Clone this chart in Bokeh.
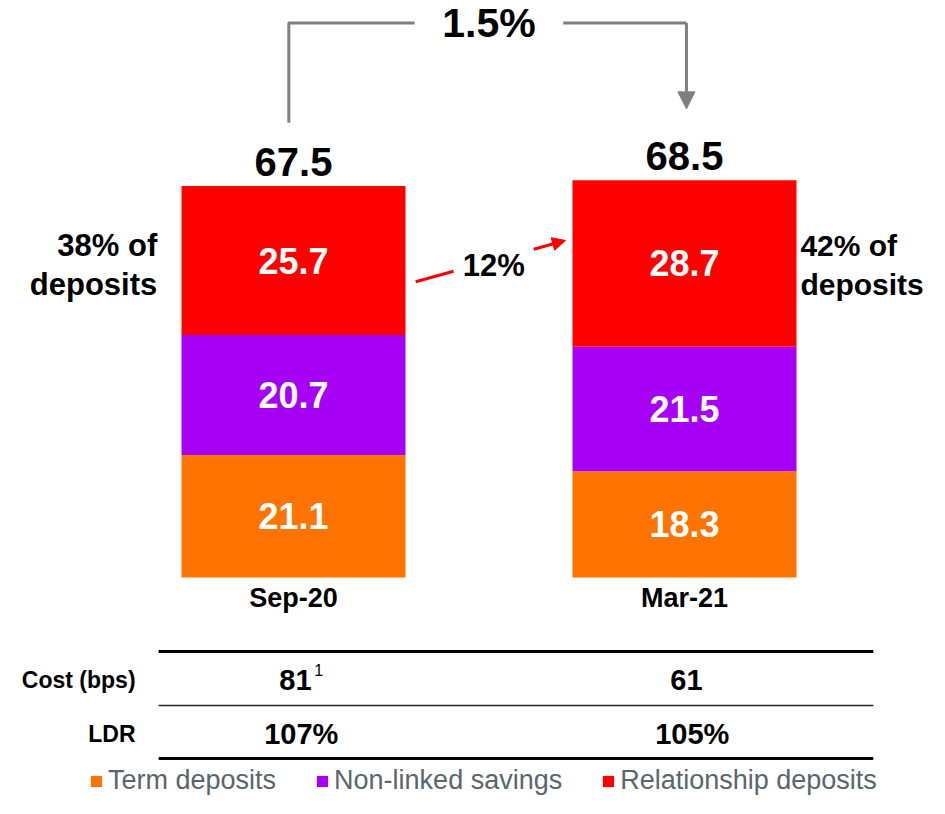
from bokeh.plotting import figure
from bokeh.models import ColumnDataSource, Range1d, Arrow, NormalHead, Legend, LegendItem
from bokeh.core.properties import value
from bokeh.embed import file_html
from bokeh.resources import INLINE

# ---------------- data ----------------
periods = ["Sep-20", "Mar-21"]
term_deposits = [21.1, 18.3]
non_linked_savings = [20.7, 21.5]
relationship_deposits = [25.7, 28.7]
series_names = ["Term deposits", "Non-linked savings", "Relationship deposits"]
series_colors = ["#FF7300", "#A600F5", "#FF0000"]
total_growth = "1.5%"
relationship_growth = "12%"
relationship_share = ["38% of", "42% of"]
share_suffix = "deposits"
cost_bps = ["81", "61"]
cost_footnote = ["1", ""]
ldr = ["107%", "105%"]
row_labels = ["Cost (bps)", "LDR"]

FONT = value("Liberation Sans")

# ---------------- figure ----------------
W, H = 929, 798
px_x = 391.0   # pixels per category step
px_y = 5.8     # pixels per unit
x_left_px, base_px = 293.0, 221.0
p = figure(width=W, height=H, output_backend="svg", toolbar_location=None,
           x_range=Range1d(-x_left_px / px_x, (W - x_left_px) / px_x),
           y_range=Range1d(-base_px / px_y, (H - base_px) / px_y),
           x_axis_location=None, y_axis_location=None, min_border=0)
p.grid.visible = False
p.outline_line_color = None
p.background_fill_color = "white"
p.border_fill_color = "white"

xs = list(range(len(periods)))
bar_w = 224 / px_x
half = bar_w / 2
src = ColumnDataSource(dict(x=xs, term=term_deposits, nls=non_linked_savings,
                            rel=relationship_deposits))
renderers = p.vbar_stack(["term", "nls", "rel"], x="x", width=bar_w, color=series_colors,
                         line_color=None, source=src)

# segment labels
lab_x, lab_y, lab_t = [], [], []
for i in xs:
    base = 0.0
    for v in (term_deposits[i], non_linked_savings[i], relationship_deposits[i]):
        lab_x.append(i); lab_y.append(base + v / 2); lab_t.append(f"{v:.1f}")
        base += v
p.text(x=lab_x, y=lab_y, text=lab_t, text_align="center", text_baseline="middle",
       text_color="white", text_font=FONT, text_font_style="bold", text_font_size="36px")

totals = [a + b + c for a, b, c in zip(term_deposits, non_linked_savings, relationship_deposits)]
p.text(x=xs, y=[t + 4.2 for t in totals], text=[f"{t:.1f}" for t in totals],
       text_align="center", text_baseline="middle", text_color="black",
       text_font=FONT, text_font_style="bold", text_font_size="40px")

# category labels
p.text(x=xs, y=[-3.6] * 2, text=periods, text_align="center", text_baseline="middle",
       text_color="black", text_font=FONT, text_font_style="bold", text_font_size="27px")

# bracket with total growth
gray = "#7F7F7F"
top_y = 95.6
gap = 0.19
p.multi_line(xs=[[xs[0] - 0.012, xs[0] - 0.012, 0.5 - gap], [0.5 + gap, xs[1] + 0.005]],
             ys=[[totals[0] + 10.9, top_y, top_y], [top_y, top_y]],
             line_color=gray, line_width=3)
p.add_layout(Arrow(end=NormalHead(size=17, fill_color=gray, line_color=gray),
                   x_start=xs[1] + 0.005, y_start=top_y, x_end=xs[1] + 0.005, y_end=totals[1] + 12.3,
                   line_color=gray, line_width=3))
p.text(x=[0.5], y=[top_y], text=[total_growth], text_align="center", text_baseline="middle",
       text_color="black", text_font=FONT, text_font_style="bold", text_font_size="41px")

# relationship growth arrow
red = "#FF0000"
rel_mid = [term_deposits[i] + non_linked_savings[i] + relationship_deposits[i] / 2 for i in xs]
x_tail, x_tip = xs[0] + half + 0.026, xs[1] - half - 0.018
y_tail, y_tip = rel_mid[0] - 3.65, rel_mid[1] + 3.95
def on_line(t):
    return x_tail + (x_tip - x_tail) * t, y_tail + (y_tip - y_tail) * t
a0 = on_line(0.0); a1 = on_line(0.253); b0 = on_line(0.788)
p.segment(x0=[a0[0]], y0=[a0[1]], x1=[a1[0]], y1=[a1[1]], line_color=red, line_width=3)
p.add_layout(Arrow(end=NormalHead(size=13, fill_color=red, line_color=red),
                   x_start=b0[0], y_start=b0[1], x_end=x_tip, y_end=y_tip,
                   line_color=red, line_width=3))
p.text(x=[0.512], y=[rel_mid[0] - 0.85], text=[relationship_growth], text_align="center",
       text_baseline="middle", text_color="black", text_font=FONT, text_font_style="bold",
       text_font_size="31px")

# share annotations
p.text(x=[xs[0] - half - 0.062] * 2, y=[rel_mid[0] + 2.55, rel_mid[0] - 4.15],
       text=[relationship_share[0], share_suffix], text_align="right", text_baseline="middle",
       text_color="black", text_font=FONT, text_font_style="bold", text_font_size="31px")
p.text(x=[xs[1] + half + 0.01] * 2, y=[rel_mid[0] + 2.55, rel_mid[0] - 4.15],
       text=[relationship_share[1], share_suffix], text_align="left", text_baseline="middle",
       text_color="black", text_font=FONT, text_font_style="bold", text_font_size="30px")

# table
tx0, tx1 = -0.345, 1.483
p.segment(x0=[tx0] * 2, x1=[tx1] * 2, y0=[-12.76, -31.2], y1=[-12.76, -31.2],
          line_color="black", line_width=3)
p.segment(x0=[tx0], x1=[tx1], y0=[-22.07], y1=[-22.07], line_color="#222222", line_width=1.5)
row_y = [-17.6, -26.9]
p.text(x=[-0.404] * 2, y=row_y, text=row_labels, text_align="right", text_baseline="middle",
       text_color="black", text_font=FONT, text_font_style="bold", text_font_size="23px")
col_x = [i + 0.005 for i in xs]
p.text(x=col_x, y=[row_y[0]] * 2, text=cost_bps, text_align="center", text_baseline="middle",
       text_color="black", text_font=FONT, text_font_style="bold", text_font_size="29px")
p.text(x=[col_x[0] + 0.048], y=[row_y[0] + 1.6], text=[cost_footnote[0]], text_align="left",
       text_baseline="middle", text_color="black", text_font=FONT, text_font_size="16px")
p.text(x=[c + 0.015 for c in col_x], y=[row_y[1]] * 2, text=ldr, text_align="center",
       text_baseline="middle", text_color="black", text_font=FONT, text_font_style="bold",
       text_font_size="29px")

# legend
items = [LegendItem(label=n, renderers=[r]) for n, r in zip(series_names, renderers)]
legend = Legend(items=items, orientation="horizontal", location=(89, 2),
                glyph_width=14, glyph_height=14, label_standoff=5, spacing=39,
                padding=0, margin=0, border_line_color=None, background_fill_alpha=0,
                label_text_font="Liberation Sans", label_text_font_size="27px",
                label_text_color="#5B656C", label_height=28)
p.add_layout(legend)

open("out.html", "w").write(file_html(p, INLINE))
